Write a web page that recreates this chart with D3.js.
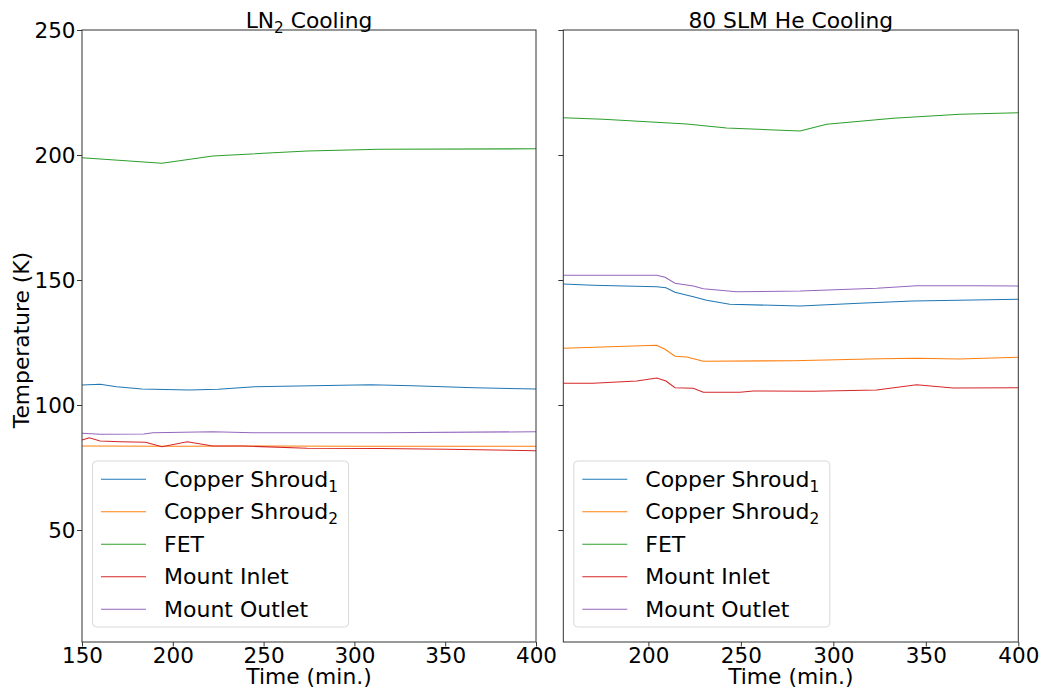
<!DOCTYPE html>
<html>
<head>
<meta charset="utf-8">
<script src="https://cdn.jsdelivr.net/npm/d3@7"></script>
<style>
  body { margin: 0; background: #fff; }
  svg { display: block; font-family: "DejaVu Sans", sans-serif; }
</style>
</head>
<body>
<svg id="chart" width="1046" height="694"></svg>
<script>
// Temperature readings [time (min), temperature (K)] per sensor, LN2 cooling run
const ln2CopperShroud1 = [[150,108.0],[160,108.3],[169,107.3],[183,106.4],[209,106.0],[225,106.3],[245,107.3],[277,107.7],[309,108.1],[332,107.7],[366,106.9],[400,106.4]];
const ln2CopperShroud2 = [[150,83.6],[200,83.5],[250,83.6],[300,83.5],[350,83.5],[400,83.5]];
const ln2Fet = [[150,198.9],[194,196.7],[222,199.6],[274,201.6],[314,202.3],[400,202.5]];
const ln2MountInlet = [[150,86.0],[154,86.9],[160,85.6],[171,85.3],[185,85.1],[194,83.3],[208,85.3],[222,83.6],[239,83.6],[274,82.7],[314,82.6],[351,82.3],[400,81.7]];
const ln2MountOutlet = [[150,88.7],[160,88.3],[184,88.4],[189,88.9],[222,89.3],[244,88.9],[314,88.9],[400,89.3]];

// Temperature readings, 80 SLM helium cooling run
const heCopperShroud1 = [[154,148.4],[170,147.9],[204.5,147.3],[209.5,146.9],[214.4,145.1],[224.3,143.3],[231.5,141.9],[244,140.3],[282,139.6],[314,140.7],[343,141.6],[400,142.3]];
const heCopperShroud2 = [[154,122.7],[204.5,123.9],[209,122.3],[214.4,119.5],[220.8,119.2],[229.7,117.5],[278,117.7],[325,118.5],[345,118.7],[368,118.4],[400,119.1]];
const heFet = [[154,214.9],[175.6,214.3],[220.7,212.4],[242.3,210.8],[282,209.6],[296.4,212.3],[332.4,214.7],[368.4,216.3],[400,216.9]];
const heMountInlet = [[154,108.7],[170,108.7],[193.7,109.6],[204.5,110.8],[209.5,109.6],[214.4,106.9],[224.3,106.7],[229.7,105.1],[249.5,105.1],[256.7,105.6],[289,105.5],[323.4,106.0],[345,108.1],[364.8,106.8],[400,106.9]];
const heMountOutlet = [[154,151.9],[204.5,151.9],[209,151.1],[214.4,148.7],[224.3,147.6],[229.7,146.5],[247.7,145.3],[282,145.6],[323.4,146.7],[345,147.7],[377.5,147.7],[400,147.6]];

const seriesNames = ["Copper Shroud", "Copper Shroud", "FET", "Mount Inlet", "Mount Outlet"];
const seriesSubs = ["1", "2", "", "", ""];
const seriesColors = ["#1f77b4", "#ff7f0e", "#2ca02c", "#d62728", "#9467bd"];

const yTicks = [50, 100, 150, 200, 250];
const ln2XTicks = [150, 200, 250, 300, 350, 400];
const heXTicks = [200, 250, 300, 350, 400];
const yDomain = [5.2, 250];

const svg = d3.select("#chart");
const plotTop = 30, plotBottom = 642;
const tickFont = 21.5, legendFont = 22, titleFont = 21.8, labelFont = 21.8;

const panels = [
  { title: "LN", titleSub: "2", titleRest: " Cooling", left: 82, right: 536, xDomain: [150, 400], xTicks: ln2XTicks,
    data: [ln2CopperShroud1, ln2CopperShroud2, ln2Fet, ln2MountInlet, ln2MountOutlet], yLabels: true },
  { title: "80 SLM He Cooling", titleSub: "", titleRest: "", left: 563.3, right: 1018.3, xDomain: [154, 400], xTicks: heXTicks,
    data: [heCopperShroud1, heCopperShroud2, heFet, heMountInlet, heMountOutlet], yLabels: false }
];

const y = d3.scaleLinear().domain(yDomain).range([plotBottom, plotTop]);

panels.forEach(p => {
  const x = d3.scaleLinear().domain(p.xDomain).range([p.left, p.right]);
  const g = svg.append("g");

  // data lines
  const line = d3.line().x(d => x(d[0])).y(d => y(d[1]));
  p.data.forEach((s, i) => {
    g.append("path").datum(s)
      .attr("fill", "none")
      .attr("stroke", seriesColors[i])
      .attr("stroke-width", 1.1)
      .attr("d", line);
  });

  // axes
  const xAxis = d3.axisBottom(x).tickValues(p.xTicks).tickSizeOuter(0).tickSize(4.5);
  const gx = g.append("g").attr("transform", `translate(0,${plotBottom})`).call(xAxis);
  const yAxis = d3.axisLeft(y).tickValues(yTicks).tickSizeOuter(0).tickSize(5).tickPadding(1.5);
  if (!p.yLabels) yAxis.tickFormat("");
  const gy = g.append("g").attr("transform", `translate(${p.left},0)`).call(yAxis);
  [gx, gy].forEach(a => {
    a.select(".domain").remove();
    a.selectAll("line").attr("stroke", "#000").attr("stroke-width", 0.8);
    a.selectAll("text").attr("font-size", tickFont).attr("font-family", "DejaVu Sans").attr("fill", "#000");
  });
  gx.selectAll("text").attr("y", 21).attr("dy", 0);
  gy.selectAll("text").attr("dy", "0.36em");

  // frame
  g.append("rect")
    .attr("x", p.left).attr("y", plotTop)
    .attr("width", p.right - p.left).attr("height", plotBottom - plotTop)
    .attr("fill", "none").attr("stroke", "#333").attr("stroke-width", 1);

  // title
  const cx = (p.left + p.right) / 2;
  const t = g.append("text").attr("x", cx).attr("y", 28)
    .attr("text-anchor", "middle").attr("font-size", titleFont).attr("fill", "#000");
  t.append("tspan").text(p.title);
  if (p.titleSub) {
    t.append("tspan").attr("font-size", titleFont * 0.7).attr("dy", 5).text(p.titleSub);
    t.append("tspan").attr("dy", -5).text(p.titleRest);
  }

  // x label
  g.append("text").attr("x", cx).attr("y", 684)
    .attr("text-anchor", "middle").attr("font-size", labelFont).attr("fill", "#000")
    .text("Time (min.)");

  // legend
  const lx = p.left + 10.5, ly = 461;
  const lg = g.append("g");
  lg.append("rect").attr("x", lx).attr("y", ly).attr("width", 256).attr("height", 166)
    .attr("rx", 4).attr("fill", "#fff").attr("fill-opacity", 0.8)
    .attr("stroke", "#d9d9d9").attr("stroke-width", 1);
  seriesNames.forEach((name, i) => {
    const ry = ly + 18.3 + i * 32.5;
    lg.append("line").attr("x1", lx + 8.5).attr("x2", lx + 53.5).attr("y1", ry).attr("y2", ry)
      .attr("stroke", seriesColors[i]).attr("stroke-width", 1.1);
    const tt = lg.append("text").attr("x", lx + 71.5).attr("y", ry + 7.6)
      .attr("font-size", legendFont).attr("fill", "#000");
    tt.append("tspan").text(name);
    if (seriesSubs[i]) tt.append("tspan").attr("font-size", legendFont * 0.7).attr("dy", 5).text(seriesSubs[i]);
  });
});

// shared y label
svg.append("text")
  .attr("transform", "translate(29,340) rotate(-90)")
  .attr("text-anchor", "middle").attr("font-size", labelFont).attr("fill", "#000")
  .text("Temperature (K)");
</script>
</body>
</html>
